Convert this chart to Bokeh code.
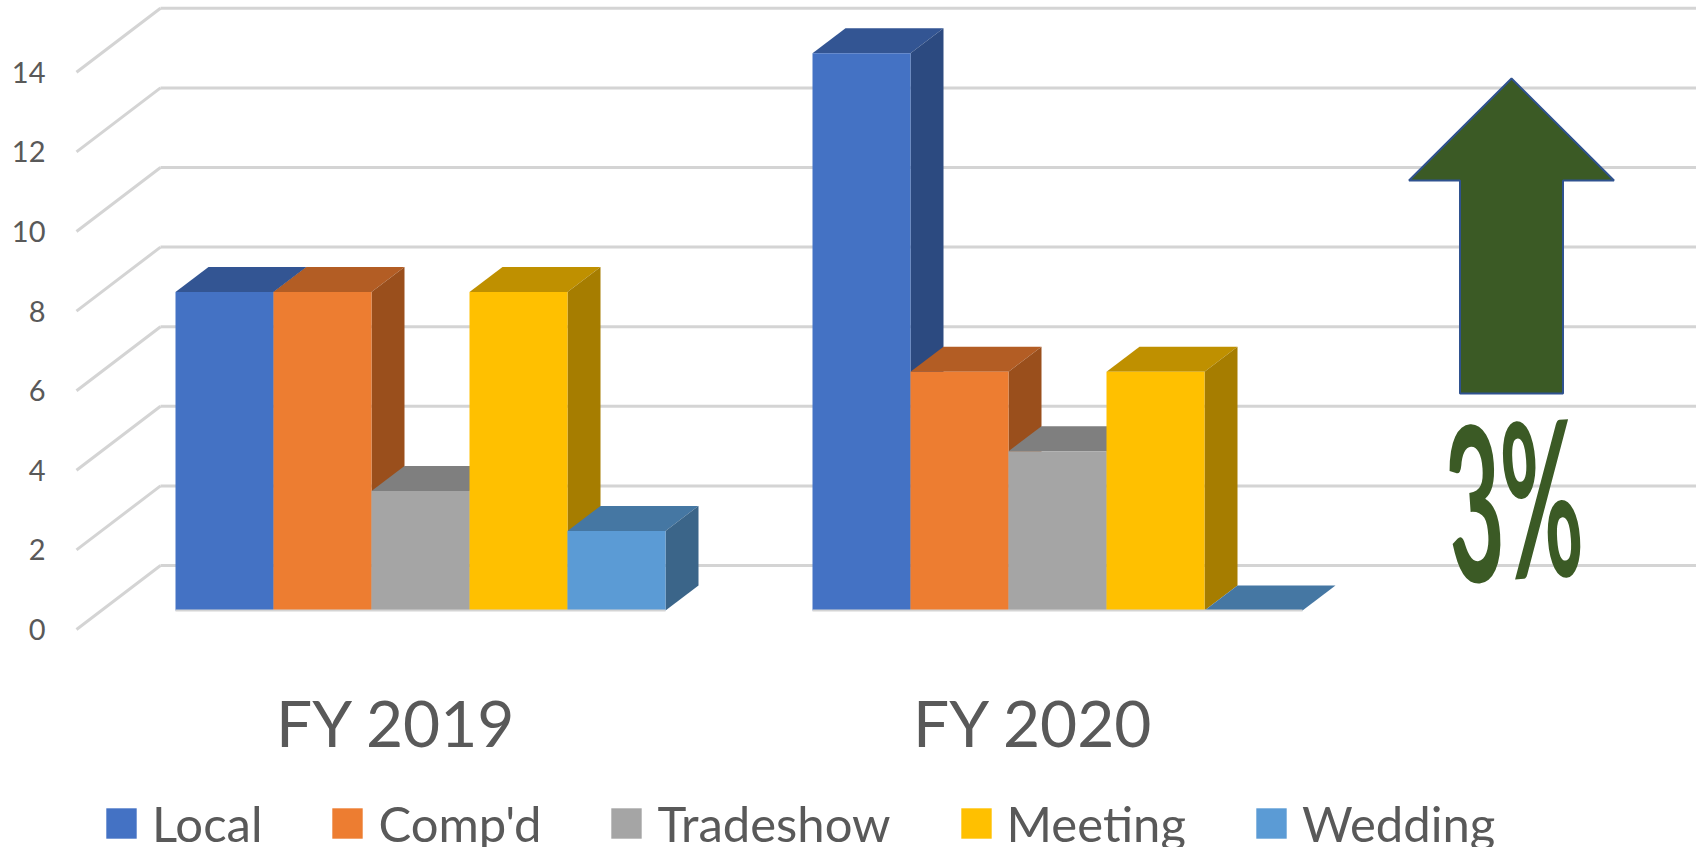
from bokeh.plotting import figure
from bokeh.models import FixedTicker, Legend, LegendItem
from bokeh.core.properties import value
from bokeh.embed import file_html
from bokeh.resources import INLINE

groups = ["FY 2019", "FY 2020"]
series = ["Local", "Comp'd", "Tradeshow", "Meeting", "Wedding"]
local = [8, 14]
compd = [8, 6]
tradeshow = [3, 4]
meeting = [8, 6]
wedding = [2, 0]
y_ticks = [0, 2, 4, 6, 8, 10, 12, 14]
front_colors = ["#4472C4", "#ED7D31", "#A5A5A5", "#FFC000", "#5B9BD5"]
top_colors = ["#335593", "#B35D24", "#7F7F7F", "#BF9000", "#4577A3"]
side_colors = ["#2C4A80", "#9A4F1C", "#6E6E6E", "#A67D00", "#3B6589"]
ink = "#595959"
grid = "#D4D4D4"
green = "#3B5A25"

W, H = 1696, 847
L = 72
Y0 = 629.0          # pixel row of value 0 on the front of the side wall
UNIT = 39.8         # pixels per unit
BAR = 98.0
DX, DY = 33.0, 25.0 / UNIT
FRONT = (Y0 - 610.0) / UNIT
BACK = (Y0 - 565.0) / UNIT
GROUP_X = [175.0, 812.0]

def val(px):
    return (Y0 - px) / UNIT

p = figure(width=W, height=H, output_backend="svg", toolbar_location=None,
           x_range=(L, W), y_range=(val(H), val(0)),
           min_border_left=L, min_border_right=0, min_border_top=0, min_border_bottom=0,
           background_fill_color="white", border_fill_color="white", outline_line_color=None)
p.grid.visible = False
p.xaxis.visible = False

p.yaxis.ticker = FixedTicker(ticks=y_ticks)
p.yaxis.axis_line_color = None
p.yaxis.major_tick_line_color = None
p.yaxis.minor_tick_line_color = None
p.yaxis.major_label_standoff = 21
p.yaxis.major_label_text_font = "Lato"
p.yaxis.major_label_text_font_size = "29px"
p.yaxis.major_label_text_color = ink

# walls
p.segment(x0=[160.0] * len(y_ticks), x1=[float(W)] * len(y_ticks),
          y0=[v + BACK for v in y_ticks], y1=[v + BACK for v in y_ticks],
          line_color=grid, line_width=3)
p.segment(x0=[76.0] * len(y_ticks), x1=[160.0] * len(y_ticks),
          y0=y_ticks, y1=[v + BACK for v in y_ticks],
          line_color=grid, line_width=3)

# 3-D columns, drawn left to right so each front hides its neighbour's side
all_values = [local, compd, tradeshow, meeting, wedding]
fronts = {}
for g, gx in enumerate(GROUP_X):
    for s, vals in enumerate(all_values):
        x0 = gx + s * BAR
        x1 = x0 + BAR
        y0 = FRONT
        y1 = FRONT + vals[g]
        p.patch([x0, x1, x1 + DX, x0 + DX], [y1, y1, y1 + DY, y1 + DY],
                fill_color=top_colors[s], line_color=None)
        p.patch([x1, x1 + DX, x1 + DX, x1], [y0, y0 + DY, y1 + DY, y1],
                fill_color=side_colors[s], line_color=None)
        r = p.quad(left=[x0], right=[x1], bottom=[y0], top=[y1],
                   fill_color=front_colors[s], line_color=None)
        fronts.setdefault(s, r)
    p.line([gx, gx + 5 * BAR], [FRONT, FRONT], line_color=grid, line_width=2)

# category labels under the groups
p.text(x=[g + 2.5 * BAR - 24 for g in GROUP_X], y=[val(722)] * len(groups), text=groups,
       text_font=value("Lato"), text_font_size="64px", text_color=ink,
       text_align="center", text_baseline="middle")

# arrow and callout
AX, AW, HW = 1511.0, 103.0, 205.0
tip, wing, foot = val(78), val(180), val(393)
p.patch([AX, AX + HW / 2, AX + AW / 2, AX + AW / 2, AX - AW / 2, AX - AW / 2, AX - HW / 2],
        [tip, wing, wing, foot, foot, wing, wing],
        fill_color=green, line_color="#2F528F", line_width=2)
p.text(x=[1513.0], y=[val(495)], text=["3%"], text_font=value("Lato"),
       text_font_style="bold", text_font_size="96px", text_color=green,
       text_align="center", text_baseline="middle")

legend = Legend(items=[LegendItem(label=n, renderers=[fronts[i]]) for i, n in enumerate(series)],
                orientation="horizontal", location=(30, -5),
                glyph_width=38, glyph_height=38, label_standoff=12, spacing=66, padding=0, margin=0,
                border_line_color=None, background_fill_alpha=0,
                label_text_font="Lato", label_text_font_size="49px", label_text_color=ink)
p.add_layout(legend, "center")

html = file_html(p, INLINE)
# the callout's hand-drawn lettering is tall and narrow: squeeze the real text element
squeeze = """<script>
function squeezeWalk(root) {
  for (const el of root.querySelectorAll('*')) {
    if (el.shadowRoot) squeezeWalk(el.shadowRoot);
    if (el.tagName === 'text' && el.textContent === '3%') {
      const t = el.transform.baseVal.consolidate();
      const tx = t ? t.matrix.e : 0, ty = t ? t.matrix.f : 0;
      el.style.transformBox = 'fill-box';
      el.style.transformOrigin = 'center';
      el.style.transform = `translate(${tx}px, ${ty}px) rotate(-4deg) scale(1, 2.25)`;
    }
  }
}
setInterval(() => squeezeWalk(document), 50);
</script>"""
html = html.replace("</body>", squeeze + "</body>")
open("out.html", "w").write(html)
